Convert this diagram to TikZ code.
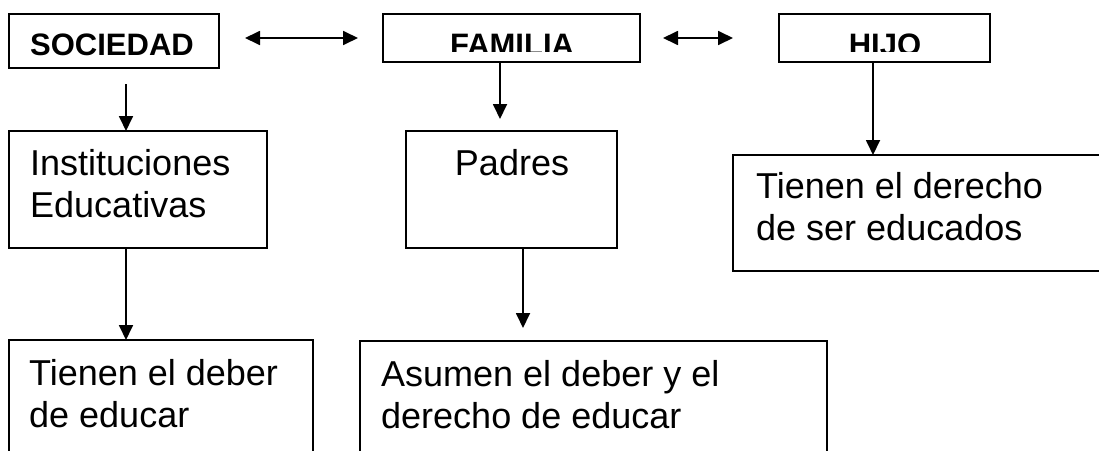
\documentclass[tikz,border=0pt]{standalone}
\usepackage{fontspec}
\setmainfont{Liberation Sans}
\usetikzlibrary{arrows.meta}

\begin{document}
\begin{tikzpicture}[
      x=1pt, y=-1pt,
      box/.style={draw=black, line width=1.8pt, anchor=north west, inner sep=0pt, outer sep=0pt},
      ttl/.style={font=\fontsize{31}{36}\selectfont\bfseries, inner sep=0pt, anchor=base},
      txt/.style={font=\fontsize{36}{41.5}\selectfont, align=left, inner sep=0pt, anchor=base west},
      arr/.style={line width=1.8pt, -{Triangle[length=15pt,width=14pt]}},
      dblarr/.style={line width=1.8pt, {Triangle[length=15pt,width=14pt]}-{Triangle[length=15pt,width=14pt]}}
    ]
    
    \useasboundingbox (0,0) rectangle (1099,450);
    \clip (0,0) rectangle (1099,450);
    
    % Top row
    \node[box, minimum width=210pt, minimum height=54pt] (soc) at (9,14) {};
    \node[box, minimum width=257pt, minimum height=48pt] (fam) at (383,14) {};
    \node[box, minimum width=211pt, minimum height=48pt] (hijo) at (779,14) {};
    
    \node[ttl] (tsoc) at (112,55) {SOCIEDAD};
    \begin{scope}
      % the two labels are cut off at the bottom
      \clip (fam.north west) rectangle ([yshift=11pt]hijo.south east);
      \node[ttl] (tfam) at (512,55) {FAMILIA};
      \node[ttl] (thijo) at (885,55) {HIJO};
    \end{scope}
    
    % Middle row (base = last line)
    \node[box, minimum width=258pt, minimum height=117pt] (inst) at (9,131) {};
    \node[box, minimum width=211pt, minimum height=117pt] (pad) at (406,131) {};
    \node[box, minimum width=380pt, minimum height=116pt] (der) at (733,155) {};
    
    \node[txt] (tinst) at (30,217) {Instituciones\\Educativas};
    \node[txt, anchor=base] (tpad) at (512,175) {Padres};
    \node[txt] (tder) at (756,240) {Tienen el derecho\\de ser educados};
    
    % Bottom row
    \node[box, minimum width=304pt, minimum height=150pt] (deb) at (9,340) {};
    \node[box, minimum width=467pt, minimum height=150pt] (asu) at (360,341) {};
    
    \node[txt] (tdeb) at (29,427) {Tienen el deber\\de educar};
    \node[txt] (tasu) at (381,428) {Asumen el deber y el\\derecho de educar};
    
    % Connectors
    \draw[dblarr] ([xshift=26pt,yshift=3pt]soc.east) -- ([xshift=-25pt]fam.west);
    \draw[dblarr] ([xshift=23pt]fam.east) -- ([xshift=-46pt]hijo.west);
    
    \draw[arr] ([xshift=12pt,yshift=-16pt]soc.south) -- ([xshift=-12pt]inst.north);
    \draw[arr] ([xshift=-12pt]inst.south) -- ([xshift=-35pt]deb.north);
    \draw[arr] ([xshift=-11.5pt]fam.south) -- ([xshift=-11.5pt,yshift=12pt]pad.north);
    \draw[arr] ([xshift=11.5pt]pad.south) -- ([xshift=-70.5pt,yshift=13pt]asu.north);
    \draw[arr] ([xshift=-11.5pt]hijo.south) -- ([xshift=-50pt]der.north);
  \end{tikzpicture}
\end{document}
